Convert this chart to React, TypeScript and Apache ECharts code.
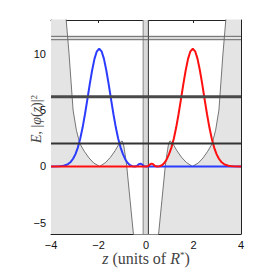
import { useEffect, useRef } from "react";
import * as echarts from "echarts";

// Potential V(z) (grey curve); values beyond the axis range are clipped
const potZ = [-4.0, -3.5, -3.36, -3.24, -3.07, -2.93, -2.78, -2.6, -2.4, -2.2, -1.95, -1.7, -1.5, -1.3, -1.15, -1.05, -1.0, -0.95, -0.91, -0.86, -0.81, -0.67, -0.53, -0.45, -0.3,
  0.3, 0.45, 0.53, 0.67, 0.81, 0.86, 0.91, 0.95, 1.0, 1.05, 1.15, 1.3, 1.5, 1.7, 1.95, 2.2, 2.4, 2.6, 2.78, 2.93, 3.07, 3.24, 3.36, 3.5, 4.0];
const potV = [40, 18, 13, 10, 5, 3.2, 2.0, 1.35, 0.75, 0.3, 0, 0.35, 0.8, 1.4, 1.95, 2.22, 2.25, 2.0, 1.5, 0.8, 0, -3, -6, -9, -20,
  -20, -9, -6, -3, 0, 0.8, 1.5, 2.0, 2.25, 2.22, 1.95, 1.4, 0.8, 0.35, 0, 0.3, 0.75, 1.35, 2.0, 3.2, 5, 10, 13, 18, 40];

// |phi(z)|^2, left-localised state (blue)
const blueZ = [-4.0, -3.67, -3.57, -3.47, -3.37, -3.27, -3.17, -3.07, -2.97, -2.87, -2.77, -2.67, -2.57, -2.47, -2.37, -2.27, -2.17, -2.07, -1.97,
  -1.87, -1.77, -1.67, -1.57, -1.47, -1.37, -1.27, -1.17, -1.07, -0.97, -0.87, -0.77, -0.67, -0.57, -0.47, -0.38, -0.3, -0.23, -0.16, -0.1, -0.04, 4.0];
const blueV = [0, 0.01, 0.03, 0.06, 0.12, 0.23, 0.4, 0.68, 1.09, 1.67, 2.45, 3.45, 4.63, 5.93, 7.28, 8.52, 9.55, 10.22, 10.45,
  10.22, 9.55, 8.52, 7.28, 5.93, 4.63, 3.45, 2.45, 1.67, 1.09, 0.62, 0.3, 0.1, 0.02, 0, 0.04, 0.2, 0.25, 0.17, 0.04, 0, 0];

// |phi(z)|^2, right-localised state (red)
const redZ = [-4.0, 0.04, 0.1, 0.16, 0.23, 0.3, 0.38, 0.47, 0.57, 0.67, 0.77, 0.87, 0.97, 1.07, 1.17, 1.27, 1.37, 1.47, 1.57, 1.67, 1.77, 1.87,
  1.97, 2.07, 2.17, 2.27, 2.37, 2.47, 2.57, 2.67, 2.77, 2.87, 2.97, 3.07, 3.17, 3.27, 3.37, 3.47, 3.57, 3.67, 4.0];
const redV = [0, 0, 0.04, 0.17, 0.25, 0.2, 0.04, 0, 0.02, 0.1, 0.3, 0.62, 1.09, 1.67, 2.45, 3.45, 4.63, 5.93, 7.28, 8.52, 9.55, 10.22,
  10.45, 10.22, 9.55, 8.52, 7.28, 5.93, 4.63, 3.45, 2.45, 1.67, 1.09, 0.68, 0.4, 0.23, 0.12, 0.06, 0.03, 0.01, 0];

// Energy levels
const levelLow = 2.03;
const levelMid = 6.18;
const levelHighA = 11.25;
const levelHighB = 11.55;

// Central barrier band
const bandLeft = -0.12;
const bandRight = 0.1;

const zTicks = [-4, -2, 0, 2, 4];
const eTicks = [-5, 0, 5, 10];
const zMin = -4, zMax = 4, eMin = -6, eMax = 13;

const zip = (a: number[], b: number[]) => a.map((v, i) => [v, b[i]]);
const fmt = (v: number) => String(v).replace("-", "\u2212");

export default function App() {
  const ref = useRef<HTMLDivElement>(null);
  useEffect(() => {
    const chart = echarts.init(ref.current!, null, { renderer: "svg" });
    const tickFont = { fontFamily: "Liberation Sans, Arial, sans-serif", fontSize: 11, color: "#111" };
    const serif = "Liberation Serif, serif";
    const nameColor = "#444";
    const levelSeries = (e: number, color: string, width: number, z: number) => ({
      type: "line", data: [[zMin, e], [zMax, e]], symbol: "none", silent: true, z,
      lineStyle: { color, width },
    });
    const vline = (x: number, color: string, width: number) => ({
      type: "line", data: [[x, eMin], [x, eMax]], symbol: "none", silent: true, z: 2,
      lineStyle: { color, width },
    });
    chart.setOption({
      animation: false,
      grid: { left: 51, right: 25, top: 20, bottom: 34, show: false, containLabel: false, outerBoundsMode: "none" },
      xAxis: [
        {
          type: "value", min: zMin, max: zMax, interval: 2, position: "bottom",
          axisLine: { show: true, onZero: false, lineStyle: { color: "#222", width: 1 } },
          axisTick: { show: true, inside: true, length: 3, lineStyle: { color: "#222" } },
          axisLabel: { ...tickFont, margin: 5, formatter: fmt, customValues: zTicks },
          splitLine: { show: false },
          name: "{i|z}{n| (units of }{i|R}{s|*}{n|)}",
          nameLocation: "middle", nameGap: 16, nameMoveOverlap: false,
          nameTextStyle: {
            fontFamily: serif, fontSize: 16, color: nameColor,
            rich: {
              n: { fontFamily: serif, fontSize: 16, color: nameColor },
              i: { fontFamily: serif, fontStyle: "italic", fontSize: 16, color: nameColor },
              s: { fontFamily: serif, fontSize: 9, color: nameColor, verticalAlign: "top" },
            },
          },
        },
        {
          type: "value", min: zMin, max: zMax, interval: 2, position: "top",
          axisLine: { show: true, onZero: false, lineStyle: { color: "#222", width: 1 } },
          axisTick: { show: true, inside: true, length: 3, lineStyle: { color: "#222" } },
          axisLabel: { show: false },
          splitLine: { show: false },
        },
      ],
      yAxis: [
        {
          type: "value", min: eMin, max: eMax, position: "left",
          axisLine: { show: true, onZero: false, lineStyle: { color: "#222", width: 1 } },
          axisTick: { show: true, inside: true, length: 3, lineStyle: { color: "#222" }, customValues: eTicks },
          axisLabel: { ...tickFont, margin: 5, formatter: fmt, customValues: eTicks },
          splitLine: { show: false },
          name: "{i|E}{n|, |}{i|\u03C6}{n|(}{i|z}{n|)|}{s|2}",
          nameLocation: "middle", nameGap: 8, nameRotate: 90, nameMoveOverlap: false,
          nameTextStyle: {
            fontFamily: serif, fontSize: 14, color: nameColor,
            padding: [0, 0, 0, 16],
            rich: {
              n: { fontFamily: serif, fontSize: 14, color: nameColor },
              i: { fontFamily: serif, fontStyle: "italic", fontSize: 14, color: nameColor },
              s: { fontFamily: serif, fontSize: 9, color: nameColor, verticalAlign: "top" },
            },
          },
        },
        {
          type: "value", min: eMin, max: eMax, position: "right",
          axisLine: { show: true, onZero: false, lineStyle: { color: "#222", width: 1 } },
          axisTick: { show: true, inside: true, length: 3, lineStyle: { color: "#222" }, customValues: eTicks },
          axisLabel: { show: false, customValues: eTicks },
          splitLine: { show: false },
        },
      ],
      series: [
        {
          name: "V", type: "line", data: zip(potZ, potV), symbol: "none", z: 1, clip: true, silent: true,
          lineStyle: { color: "#555", width: 0.8 },
          areaStyle: { color: "#e4e4e4", opacity: 1, origin: "start" },
        },
        {
          type: "line", data: [], symbol: "none", z: 2, silent: true,
          markArea: {
            silent: true,
            itemStyle: { color: "#d9d9d9" },
            data: [
              [{ xAxis: bandLeft }, { xAxis: bandRight }],
              [{ yAxis: levelHighA }, { yAxis: levelHighB }],
            ],
          },
        },
        vline(bandLeft, "#888", 1),
        vline(bandRight, "#333", 1),
        {
          name: "blue", type: "line", data: zip(blueZ, blueV), symbol: "none", z: 3, clip: true,
          lineStyle: { color: "#2b3cff", width: 2 },
        },
        {
          name: "red", type: "line", data: zip(redZ, redV), symbol: "none", z: 4, clip: true,
          lineStyle: { color: "#ff1010", width: 2 },
        },
        levelSeries(levelLow, "#333", 2, 5),
        levelSeries(levelMid, "#4a4a4a", 3, 5),
        levelSeries(levelHighA, "#666", 1, 5),
        levelSeries(levelHighB, "#666", 1, 5),
      ],
    });
    return () => chart.dispose();
  }, []);
  return <div ref={ref} style={{ position: "absolute", left: 0, top: 0, width: 266, height: 268 }} />;
}
